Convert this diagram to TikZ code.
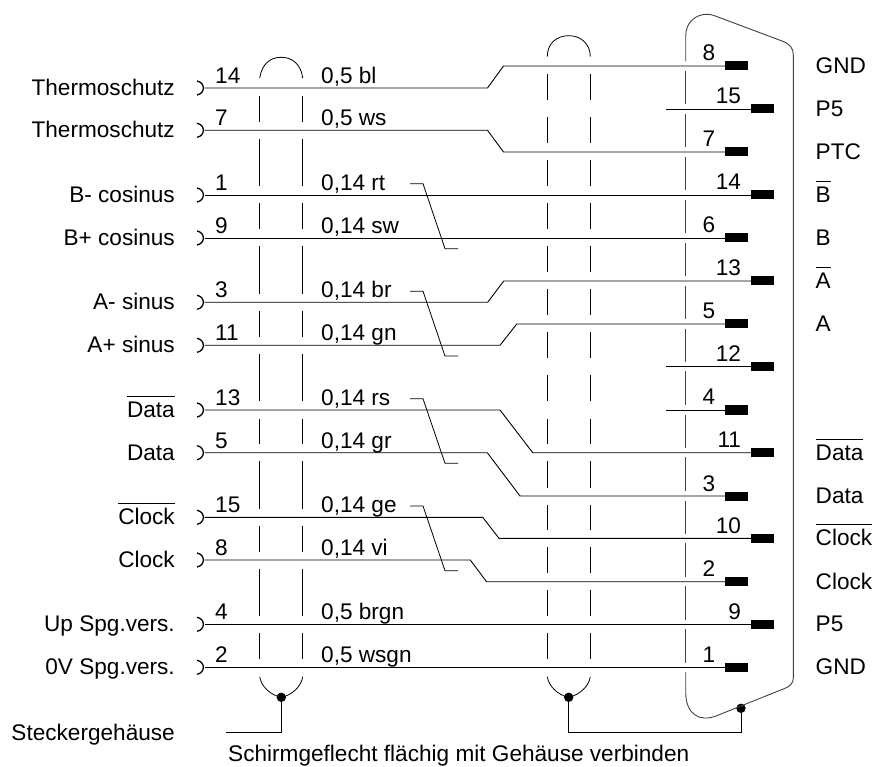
\documentclass[tikz,border=0pt]{standalone}
\usepackage{fontspec}
\setmainfont{Liberation Sans}
\usepackage{amsmath}
\usetikzlibrary{positioning}
\newcommand{\barred}[1]{$\overline{\rule{0pt}{18pt}\mbox{#1}}$}
\tikzset{
    wire/.style={line width=0.9pt},
    thinline/.style={line width=0.8pt},
    pinbox/.style={draw=none, fill=black, rectangle, minimum width=22.7pt, minimum height=9pt, inner sep=0pt},
    joint/.style={draw=none, fill=black, circle, minimum size=9.4pt, inner sep=0pt},
    caption/.style={inner sep=0pt, font=\fontsize{22.6}{27}\selectfont}
}

\begin{document}
\begin{tikzpicture}[x=1pt, y=-1pt]
    \useasboundingbox (0,0) rectangle (876,767);

    % Left side: sockets, signal names, numbers, gauges
    \foreach \num/\yy/\sig/\gauge in {
        14/88/Thermoschutz/{0,5 bl},
        7/130.3/Thermoschutz/{0,5 ws},
        1/195/B- cosinus/{0,14 rt},
        9/238/B+ cosinus/{0,14 sw},
        3/302.3/A- sinus/{0,14 br},
        11/345.3/A+ sinus/{0,14 gn},
        13/410/{\barred{Data}}/{0,14 rs},
        5/452.7/Data/{0,14 gr},
        15/517.3/{\barred{Clock}}/{0,14 ge},
        8/560/Clock/{0,14 vi},
        4/624.3/Up Spg.vers./{0,5 brgn},
        2/667.3/0V Spg.vers./{0,5 wsgn}} {
        \coordinate (s\num) at (204.5,\yy);
        \draw[line width=1.3pt] ([shift={(-7.5,-7)}]s\num) .. controls +(8.5,1.5) and +(8.5,-1.5) .. ++(0,14);
        \node[caption, anchor=base east] (sig\num) at (175,\yy+7.5) {\sig};
        \node[caption, anchor=base west] (num\num) at (215,\yy-4.4) {\num};
        \node[caption, anchor=base west] (gauge\num) at (321,\yy-4.4) {\gauge};
    }

    % Right side: pins of the plug
    \foreach \num/\xx/\yy in {8/736.5/66, 15/762.3/109, 7/736.5/152, 14/762.3/195, 6/736.5/238,
        13/762.3/281, 5/736.5/324, 12/762.3/366.7, 4/736.5/410, 11/762.3/452.7, 3/736.5/496,
        10/762.3/538.3, 2/736.5/581.7, 9/762.3/624.3, 1/736.5/667.3} {
        \node[pinbox] (p\num) at (\xx,\yy) {};
        \node[caption, anchor=base east] (n\num) at ([shift={(-9.5,-5)}]p\num.west) {\num};
    }

    % Names at the plug
    \foreach \num/\txt in {8/GND, 15/P5, 7/PTC, 14/{\barred{B}}, 6/B, 13/{\barred{A}}, 5/A,
        11/{\barred{Data}}, 3/Data, 10/{\barred{Clock}}, 2/Clock, 9/P5, 1/GND} {
        \node[caption, anchor=base west] (r\num) at (815.5,0 |- p\num) [yshift=-7.5pt] {\txt};
    }

    % Wires
    \foreach \from/\to/\xa/\xb in {14/8/487.5/503.5, 7/7/487.5/503.5, 3/13/487.7/503.7, 11/5/500/516.7,
        13/11/500/532.7, 5/3/487.3/520, 15/10/482.7/499, 8/2/470.3/486.5} {
        \draw[wire] (s\from) -- (\xa,0 |- s\from) -- (\xb,0 |- p\to) -- (p\to);
    }
    \draw[wire] (s1) -- (p14);
    \draw[wire] (s9) -- (p6);
    \draw[wire] (s4) -- (p9);
    \draw[wire] (s2) -- (p1);

    % Unused pins
    \foreach \num in {15,12,4} {
        \coordinate (e\num) at (666,0 |- p\num);
        \draw[wire] (e\num) -- (p\num);
    }

    % Twisted pair marks
    \foreach \ya/\yb in {183.7/248.7, 291.3/356, 398.7/463.3, 506/570.7} {
        \draw[thinline] (410,\ya) -- (423,\ya) -- (445,\yb) -- (458,\yb);
    }

    % Shields
    \foreach \ya/\yb in {88/130.3, 130.3/195, 195/238, 238/302.3, 302.3/345.3, 345.3/410,
        410/452.7, 452.7/517.3, 517.3/560, 560/624.3, 624.3/667.3} {
        \draw[thinline] (259.7,\ya+8.5) -- (259.7,\yb-8.5);
        \draw[thinline] (302.7,\ya+8.5) -- (302.7,\yb-8.5);
    }
    \foreach \ya/\yb in {66/109, 109/152, 152/195, 195/238, 238/281, 281/324, 324/366.7, 366.7/410,
        410/452.7, 452.7/496, 496/538.3, 538.3/581.7, 581.7/624.3, 624.3/667.3} {
        \draw[thinline] (547.3,\ya+8.5) -- (547.3,\yb-8.5);
        \draw[thinline] (590.3,\ya+8.5) -- (590.3,\yb-8.5);
        \draw[wire, black!75] (685.7,\ya+4.6) -- (685.7,\yb-4.6);
    }
    \draw[thinline] (259.7,78) .. controls (262,64) and (270,57.3) .. (281.2,57.3)
        .. controls (292,57.3) and (301,64) .. (302.7,78);
    \draw[thinline] (547.3,56.7) .. controls (547.3,44) and (556,35.7) .. (568.8,35.7)
        .. controls (581,35.7) and (590.3,44) .. (590.3,56.7);

    % Joints
    \node[joint] (jointL) at (281.3,697.3) {};
    \node[joint] (jointM) at (568.7,697.3) {};
    \node[joint] (jointR) at (741,708.3) {};
    \draw[thinline] (259.7,676.7) .. controls (261,686) and (270,695) .. (jointL.center)
        .. controls (292.6,695) and (301.4,686) .. (302.7,676.7);
    \draw[thinline] (547.3,676.7) .. controls (548.6,686) and (557.6,695) .. (jointM.center)
        .. controls (579.8,695) and (589,686) .. (590.3,676.7);

    % Housing of the plug
    \draw[wire, black!75] (685.7,61.4) -- (685.7,36) .. controls (685.7,22) and (696,14.3) .. (707,14.3)
        .. controls (711,14.3) and (714,15.5) .. (718,17) -- (782,41)
        .. controls (790,44) and (793.3,48) .. (793.3,55) -- (793.3,678)
        .. controls (793.3,683) and (790,686.5) .. (785,688.3) -- (716,716)
        .. controls (700,722) and (685.7,715) .. (685.7,692) -- (685.7,671.9);

    % Bottom connections and texts
    \coordinate (caseEnd) at (225.7,732.3);
    \coordinate (jog) at (741,732.3);
    \draw[wire] (jointL) |- (caseEnd);
    \draw[wire] (jointM) |- (jog) -- (jointR);
    \node[caption, anchor=base east] (caseText) at (175,740) {Steckergehäuse};
    \node[caption, anchor=base west] (braidText) at (228,761.5) {Schirmgeflecht flächig mit Gehäuse verbinden};
\end{tikzpicture}
\end{document}
